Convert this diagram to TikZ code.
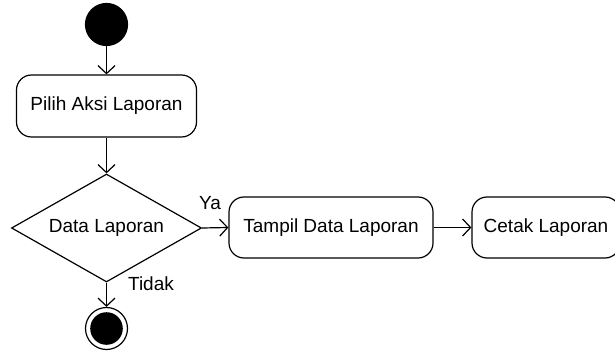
\documentclass[tikz,border=0pt]{standalone}
\usepackage{fontspec}
\setmainfont{Liberation Sans}
\usetikzlibrary{shapes.geometric,arrows.meta}
\tikzset{
  every node/.style={font=\fontsize{19}{23}\selectfont},
  act/.style={draw, rounded corners=15pt, line width=1.2pt, inner sep=0pt},
  dec/.style={draw, diamond, line width=1.2pt, inner sep=0pt, aspect=1.76},
  startnode/.style={circle, fill=black, draw=black, line width=1.2pt, minimum size=42pt, inner sep=0pt},
  endnode/.style={circle, draw=black, fill=white, line width=1.2pt, minimum size=42pt, inner sep=0pt,
    path picture={\fill[black] (path picture bounding box.center) circle (16.3pt);}},
  flow/.style={draw, line width=1.2pt, -{Straight Barb[length=8pt,width=17pt]}},
  lbl/.style={inner sep=0pt}
}
\begin{document}
\begin{tikzpicture}[x=1pt,y=-1pt]
\clip (0,0) rectangle (615,352);
\fill[white] (0,0) rectangle (615,352);
\node[startnode] (start) at (106.5,24.5) {};
\node[act, minimum width=180pt, minimum height=62pt] (pilih) at (106.5,106) {Pilih Aksi Laporan};
\node[dec, minimum width=190pt, minimum height=108pt] (data) at (106.5,228) {Data Laporan};
\node[act, minimum width=204pt, minimum height=61pt] (tampil) at (331,227.5) {Tampil Data Laporan};
\node[act, minimum width=148pt, minimum height=61pt] (cetak) at (546,227.5) {Cetak Laporan};
\node[endnode] (end) at (106.5,328.5) {};
\node[lbl] (ya) at (210,203) {Ya};
\node[lbl] (tidak) at (151,284) {Tidak};
\draw[flow] (start.south) -- (pilih.north);
\draw[flow] (pilih.south) -- (data.north);
\draw[flow] (data.east) -- (tampil.west);
\draw[flow] (tampil.east) -- (cetak.west);
\draw[flow] (data.south) -- (end.north);
\end{tikzpicture}
\end{document}
